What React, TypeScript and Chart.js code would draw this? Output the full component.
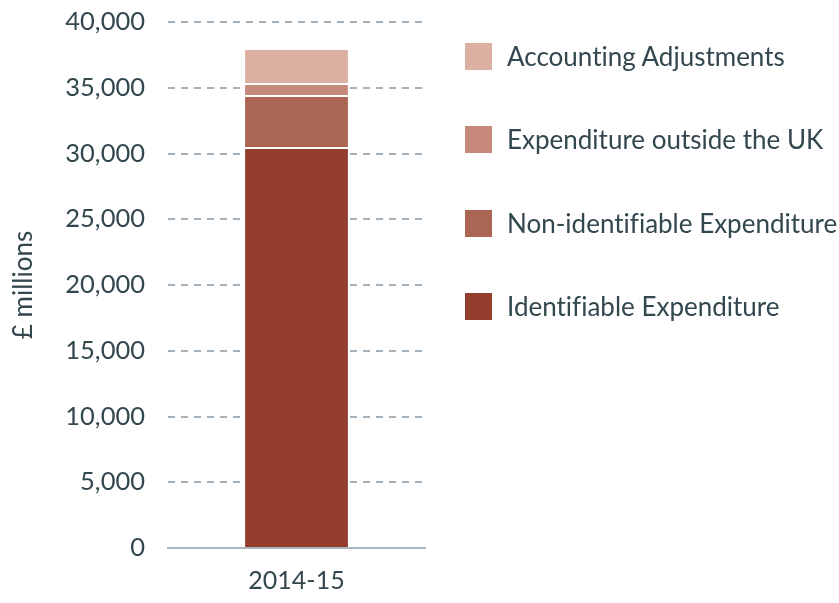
import React, { useEffect, useRef } from "react";
import { Chart, registerables } from "chart.js";

Chart.register(...registerables);

const categories = ["2014-15"];
const seriesNames = [
  "Identifiable Expenditure",
  "Non-identifiable Expenditure",
  "Expenditure outside the UK",
  "Accounting Adjustments",
];
const identifiable = [30500];
const nonIdentifiable = [3950];
const outsideUK = [910];
const accounting = [2510];
const seriesColors = ["#933e2d", "#ab6553", "#c78a7a", "#dcafa3"];
const yTicks = { min: 0, max: 40000, step: 5000 };

const FONT = "Lato, 'Noto Sans', sans-serif";
const TEXT = "#33474f";

export default function App() {
  const ref = useRef<HTMLCanvasElement | null>(null);

  useEffect(() => {
    document.body.style.margin = "0";
    const values = [identifiable, nonIdentifiable, outsideUK, accounting];
    const chart = new Chart(ref.current!, {
      type: "bar",
      data: {
        labels: categories,
        datasets: values.map((v, i) => ({
          label: seriesNames[i],
          data: v,
          backgroundColor: seriesColors[i],
          borderColor: "#ffffff",
          borderWidth: i === values.length - 1 ? 0 : { top: 2, left: 0, right: 0, bottom: 0 },
          borderSkipped: false,
          barPercentage: 0.4,
          categoryPercentage: 1,
        })),
      },
      options: {
        responsive: false,
        animation: false,
        layout: { padding: { top: 22, right: 414, bottom: 0, left: 0 } },
        plugins: { legend: { display: false }, tooltip: { enabled: false } },
        scales: {
          x: {
            stacked: true,
            afterFit: (s: any) => {
              s.height = 55;
            },
            grid: { display: false, drawTicks: false },
            border: { display: true, color: "#a9b6be", width: 2 },
            ticks: { color: TEXT, font: { family: FONT, size: 25 }, padding: 18 },
          },
          y: {
            stacked: true,
            min: yTicks.min,
            max: yTicks.max,
            afterFit: (s: any) => {
              s.width = 168;
              s.paddingTop = 0;
              s.paddingBottom = 0;
            },
            ticks: {
              stepSize: yTicks.step,
              color: TEXT,
              font: { family: FONT, size: 25.5 },
              padding: 23,
            },
            grid: { color: "#a6b3bc", lineWidth: 2, drawTicks: false },
            border: { display: false, dash: [7, 6] },
            title: {
              display: true,
              text: "£ millions",
              color: TEXT,
              font: { family: FONT, size: 26 },
              padding: { top: 8, bottom: 0 },
            },
          },
        },
      },
    });
    return () => chart.destroy();
  }, []);

  const legendOrder = [3, 2, 1, 0];
  return (
    <div style={{ position: "relative", width: 839, height: 603, fontFamily: FONT }}>
      <canvas ref={ref} width={839} height={603} style={{ display: "block" }} />
      {legendOrder.map((idx, k) => (
        <div
          key={idx}
          style={{
            position: "absolute",
            left: 465,
            top: 43 + k * 83.3,
            height: 27,
            display: "flex",
            alignItems: "center",
            whiteSpace: "nowrap",
          }}
        >
          <span style={{ width: 27, height: 27, background: seriesColors[idx], display: "inline-block", flex: "none" }} />
          <span
            style={{
              marginLeft: 15,
              fontSize: 26,
              color: TEXT,
              lineHeight: "27px",
              fontVariantLigatures: "none",
            }}
          >
            {seriesNames[idx]}
          </span>
        </div>
      ))}
    </div>
  );
}
